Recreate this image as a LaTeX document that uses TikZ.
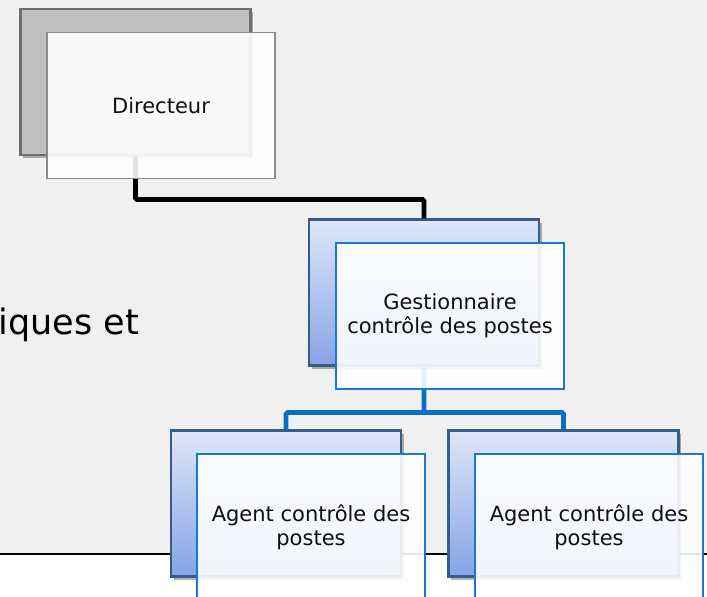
\documentclass[tikz,border=0pt]{standalone}
\usepackage{fontspec}
\setmainfont{DejaVu Sans}
\usetikzlibrary{shadows}
\definecolor{bggray}{RGB}{240,240,240}
\definecolor{boxgray}{RGB}{192,192,192}
\definecolor{boxgrayline}{RGB}{110,110,110}
\definecolor{frontgrayline}{RGB}{140,140,140}
\definecolor{bluetop}{RGB}{222,231,248}
\definecolor{bluebot}{RGB}{134,163,230}
\definecolor{bluedark}{RGB}{55,92,135}
\definecolor{bluefront}{RGB}{24,120,210}
\definecolor{blueconn}{RGB}{10,110,195}
\definecolor{txt}{RGB}{15,15,15}
\tikzset{
  backbox/.style={rectangle, inner sep=0pt, minimum width=230pt, minimum height=146pt,
    line width=2.2pt, drop shadow={shadow xshift=2.5pt, shadow yshift=-3pt, opacity=0.3, fill=black}},
  backgraybox/.style={backbox, draw=boxgrayline, fill=boxgray},
  backbluebox/.style={backbox, draw=bluedark, top color=bluetop, bottom color=bluebot},
  frontbox/.style={rectangle, inner sep=0pt, minimum width=228pt, minimum height=146pt,
    line width=1.3pt, fill=white, fill opacity=0.89, text opacity=1, text=txt,
    align=center, font=\fontsize{21}{24}\selectfont},
  frontgraybox/.style={frontbox, draw=frontgrayline},
  frontbluebox/.style={frontbox, draw=bluefront},
  blackconn/.style={line width=4.6pt, draw=black, rounded corners=1.5pt},
  blueconn/.style={line width=4.6pt, draw=blueconn, rounded corners=1.5pt}
}
\begin{document}
\begin{tikzpicture}[x=1pt,y=-1pt]
\useasboundingbox (0,0) rectangle (707,597);
\clip (0,0) rectangle (707,597);
% slide background
\fill[bggray] (0,0) rectangle (707,554);
\fill[white] (0,554) rectangle (707,597);
\draw[line width=1.5pt, black] (0,554) -- (707,554);
% partial slide text
\node[anchor=base east, inner sep=0pt, font=\fontsize{35}{40}\selectfont, text=black] (slidetext) at (139,334) {iques et};
% coordinates for connector levels
\coordinate (lvlone) at (0,199.5);
\coordinate (lvltwo) at (0,412.5);
% back boxes
\node[backgraybox] (dirB) at (135.5,82) {};
\node[backbluebox] (gesB) at (424,292.5) {};
\node[backbluebox] (agaB) at (286,503.5) {};
\node[backbluebox] (agbB) at (563.5,503.5) {};
% connectors (behind front boxes)
\draw[blackconn] (dirB.south) -- (dirB.south |- lvlone) -| (gesB.north);
\draw[blueconn] (gesB.south) -- (gesB.south |- lvltwo) -| (agaB.north);
\draw[blueconn] (gesB.south |- lvltwo) -| (agbB.north);
% front boxes
\node[frontgraybox] (dirF) at (161,105.5) {Directeur};
\node[frontbluebox] (gesF) at (450,316) {Gestionnaire\\contrôle des postes};
\node[frontbluebox] (agaF) at (311,527) {Agent contrôle des\\postes};
\node[frontbluebox] (agbF) at (589,527) {Agent contrôle des\\postes};
\end{tikzpicture}
\end{document}
